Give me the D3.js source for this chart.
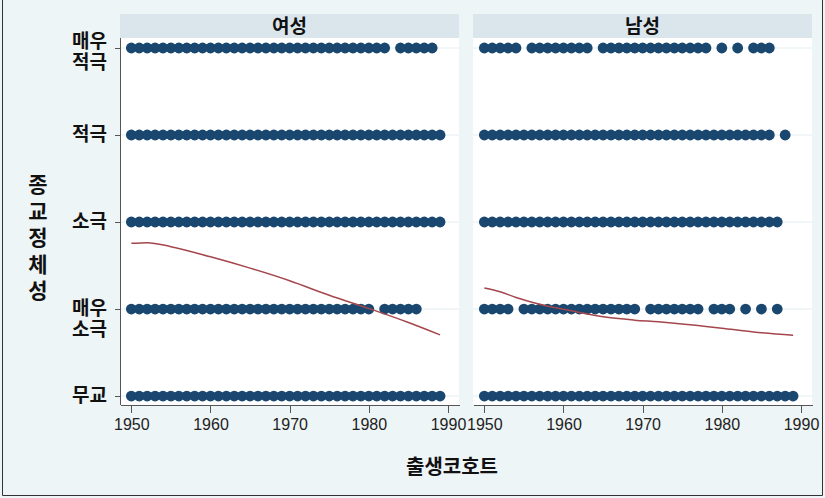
<!DOCTYPE html>
<html>
<head>
<meta charset="utf-8">
<title>religiosity-cohort</title>
<script src="https://cdn.jsdelivr.net/npm/d3@7"></script>
<style>
  body { margin: 0; background: #fff; }
  svg { display: block; }
  .ko { font-family: "Noto Sans CJK KR", "Noto Sans", sans-serif; font-weight: 700; fill: #111; }
  .tick text { font-family: "Liberation Sans", Arial, sans-serif; font-size: 16px; fill: #222; }
  .axis path, .axis line { stroke: #555; shape-rendering: crispEdges; }
  .vtitle { writing-mode: vertical-rl; text-orientation: upright; letter-spacing: 5.5px; }
</style>
</head>
<body>
<svg width="825" height="498"></svg>
<script>
// y categories (0 = 무교 ... 4 = 매우 적극)
var levels = [0, 1, 2, 3, 4];
var levelLabels = [["무교"], ["매우", "소극"], ["소극"], ["적극"], ["매우", "적극"]];
var panels = ["여성", "남성"];
var xTicks = [1950, 1960, 1970, 1980, 1990];

var femaleYears = {
  4: [1950,1951,1952,1953,1954,1955,1956,1957,1958,1959,1960,1961,1962,1963,1964,1965,1966,1967,1968,1969,1970,1971,1972,1973,1974,1975,1976,1977,1978,1979,1980,1981,1982,1984,1985,1986,1987,1988],
  3: [1950,1951,1952,1953,1954,1955,1956,1957,1958,1959,1960,1961,1962,1963,1964,1965,1966,1967,1968,1969,1970,1971,1972,1973,1974,1975,1976,1977,1978,1979,1980,1981,1982,1983,1984,1985,1986,1987,1988,1989],
  2: [1950,1951,1952,1953,1954,1955,1956,1957,1958,1959,1960,1961,1962,1963,1964,1965,1966,1967,1968,1969,1970,1971,1972,1973,1974,1975,1976,1977,1978,1979,1980,1981,1982,1983,1984,1985,1986,1987,1988,1989],
  1: [1950,1951,1952,1953,1954,1955,1956,1957,1958,1959,1960,1961,1962,1963,1964,1965,1966,1967,1968,1969,1970,1971,1972,1973,1974,1975,1976,1977,1978,1979,1980,1982,1983,1984,1985,1986],
  0: [1950,1951,1952,1953,1954,1955,1956,1957,1958,1959,1960,1961,1962,1963,1964,1965,1966,1967,1968,1969,1970,1971,1972,1973,1974,1975,1976,1977,1978,1979,1980,1981,1982,1983,1984,1985,1986,1987,1988,1989]
};
var maleYears = {
  4: [1950,1951,1952,1953,1954,1956,1957,1958,1959,1960,1961,1962,1963,1965,1966,1967,1968,1969,1970,1971,1972,1973,1974,1975,1976,1977,1978,1980,1982,1984,1985,1986],
  3: [1950,1951,1952,1953,1954,1955,1956,1957,1958,1959,1960,1961,1962,1963,1964,1965,1966,1967,1968,1969,1970,1971,1972,1973,1974,1975,1976,1977,1978,1979,1980,1981,1982,1983,1984,1985,1986,1988],
  2: [1950,1951,1952,1953,1954,1955,1956,1957,1958,1959,1960,1961,1962,1963,1964,1965,1966,1967,1968,1969,1970,1971,1972,1973,1974,1975,1976,1977,1978,1979,1980,1981,1982,1983,1984,1985,1986,1987],
  1: [1950,1951,1952,1953,1955,1956,1957,1958,1959,1960,1961,1962,1963,1964,1965,1966,1967,1968,1969,1971,1972,1973,1974,1975,1976,1977,1979,1980,1981,1983,1985,1987],
  0: [1950,1951,1952,1953,1954,1955,1956,1957,1958,1959,1960,1961,1962,1963,1964,1965,1966,1967,1968,1969,1970,1971,1972,1973,1974,1975,1976,1977,1978,1979,1980,1981,1982,1983,1984,1985,1986,1987,1988,1989]
};

// smoothed trend (lowess-like)
var femaleFitYears = [1950, 1952, 1955, 1960, 1965, 1970, 1975, 1980, 1985, 1989];
var femaleFitVals  = [1.755, 1.763, 1.717, 1.60, 1.47, 1.325, 1.158, 1.006, 0.845, 0.703];
var maleFitYears = [1950, 1952, 1954, 1957, 1961, 1965, 1969, 1972, 1974, 1980, 1984, 1989];
var maleFitVals  = [1.241, 1.198, 1.133, 1.056, 0.979, 0.910, 0.872, 0.853, 0.837, 0.780, 0.737, 0.699];

var svg = d3.select("svg");

// graph region
svg.append("rect").attr("x", 0).attr("y", 0).attr("width", 825).attr("height", 498)
  .attr("fill", "#eef5f6");
svg.append("path").attr("d", "M2.5,-1V495.5H822.5V-1")
  .attr("fill", "none").attr("stroke", "#333").attr("stroke-width", 1);

var plotTop = 38, plotBottom = 405, panelW = 339;
var panelX = [120, 473];

var y = d3.scaleLinear().domain([-0.103, 4.115]).range([plotBottom, plotTop]);
var x = d3.scaleLinear().domain([1948.57, 1991.39]).range([0, panelW]);

var yearSets = [femaleYears, maleYears];
var fits = [[femaleFitYears, femaleFitVals], [maleFitYears, maleFitVals]];

var line = d3.line()
  .x(function(d) { return x(d[0]); })
  .y(function(d) { return y(d[1]); })
  .curve(d3.curveMonotoneX);

panels.forEach(function(name, i) {
  var g = svg.append("g").attr("transform", "translate(" + panelX[i] + ",0)");

  // header strip
  g.append("rect").attr("x", 0).attr("y", 14).attr("width", panelW).attr("height", 24)
    .attr("fill", "#dae6ec");
  g.append("text").attr("class", "ko").attr("x", panelW / 2).attr("y", 33)
    .attr("text-anchor", "middle").style("font-size", "19px").text(name);

  // plot region
  g.append("rect").attr("x", 0).attr("y", plotTop).attr("width", panelW).attr("height", plotBottom - plotTop)
    .attr("fill", "#fff");

  // faint grid
  g.selectAll(".grid").data(levels).enter().append("line")
    .attr("x1", 0).attr("x2", panelW)
    .attr("y1", function(d) { return y(d); }).attr("y2", function(d) { return y(d); })
    .attr("stroke", "#e3edf1").attr("stroke-width", 1);

  // dots
  var pts = [];
  levels.forEach(function(lv) {
    yearSets[i][lv].forEach(function(yr) { pts.push({ year: yr, level: lv }); });
  });
  g.selectAll(".dot").data(pts).enter().append("circle")
    .attr("cx", function(d) { return x(d.year); })
    .attr("cy", function(d) { return y(d.level); })
    .attr("r", 5.4)
    .attr("fill", "#1a476f");

  // fitted line
  var fd = fits[i][0].map(function(yr, k) { return [yr, fits[i][1][k]]; });
  g.append("path").datum(fd).attr("d", line)
    .attr("fill", "none").attr("stroke", "#a4464c").attr("stroke-width", 1.5);

  // x axis
  g.append("g").attr("class", "axis")
    .attr("transform", "translate(0," + plotBottom + ")")
    .call(d3.axisBottom(x).tickValues(xTicks).tickFormat(d3.format("d")).tickSizeInner(8).tickSizeOuter(0).tickPadding(6));
});

// y axis on the left panel
var ya = svg.append("g").attr("class", "axis").attr("transform", "translate(" + panelX[0] + ",0)");
ya.append("line").attr("x1", 0).attr("x2", 0).attr("y1", plotTop).attr("y2", plotBottom)
  .attr("stroke", "#555");
ya.selectAll(".yt").data(levels).enter().append("line")
  .attr("x1", -5).attr("x2", 0)
  .attr("y1", function(d) { return y(d); }).attr("y2", function(d) { return y(d); })
  .attr("stroke", "#555");

// one text per label line
var labelLines = [];
levels.forEach(function(lv) {
  levelLabels[lv].forEach(function(s, k) { labelLines.push({ level: lv, k: k, text: s }); });
});
ya.selectAll(".yl").data(labelLines).enter().append("text")
  .attr("class", "ko").attr("text-anchor", "end").style("font-size", "19px")
  .attr("x", -13)
  .attr("y", function(d) {
    return y(d.level) + (d.level === 4 ? 0 : 6) + d.k * 21;
  })
  .text(function(d) { return d.text; });

// y title, set vertically as one text
svg.append("text").attr("class", "ko vtitle").style("font-size", "21px")
  .attr("text-anchor", "middle")
  .attr("x", 38).attr("y", 240)
  .text("종교정체성");

// x title
svg.append("text").attr("class", "ko").style("font-size", "20px")
  .attr("text-anchor", "middle").attr("x", 452).attr("y", 474).text("출생코호트");
</script>
</body>
</html>
